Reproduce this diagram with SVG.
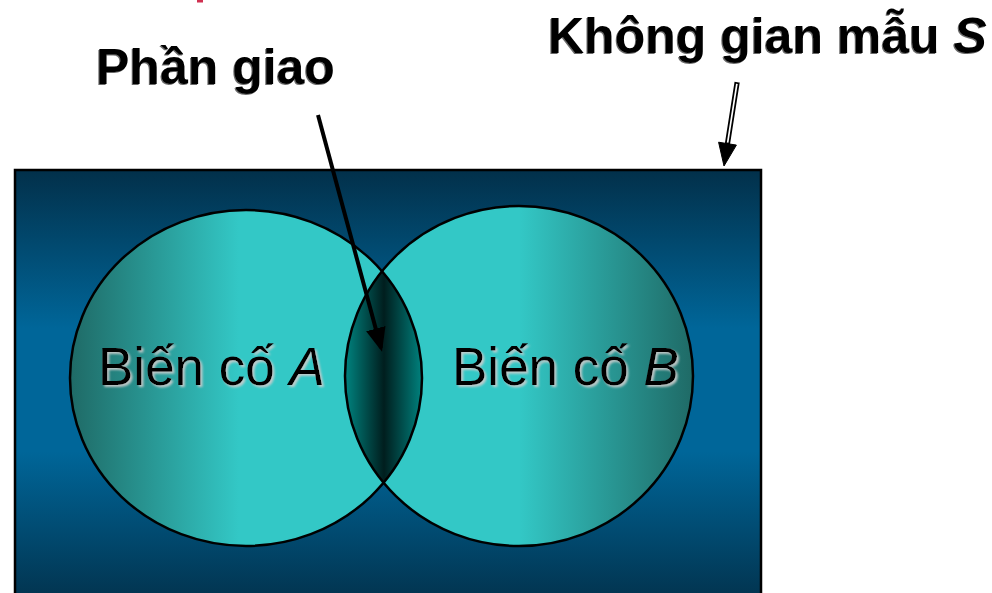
<svg xmlns="http://www.w3.org/2000/svg" width="992" height="593" viewBox="0 0 992 593">
<defs>
<linearGradient id="bg" x1="0" y1="170" x2="0" y2="610" gradientUnits="userSpaceOnUse">
<stop offset="0" stop-color="#02304a"/>
<stop offset="0.36" stop-color="#006699"/>
<stop offset="0.64" stop-color="#006699"/>
<stop offset="1" stop-color="#02304a"/>
</linearGradient>
<linearGradient id="gA" x1="70" y1="0" x2="422" y2="0" gradientUnits="userSpaceOnUse">
<stop offset="0" stop-color="#1f6a66"/>
<stop offset="0.48" stop-color="#33c8c6"/>
<stop offset="1" stop-color="#33c8c6"/>
</linearGradient>
<linearGradient id="gB" x1="345" y1="0" x2="693" y2="0" gradientUnits="userSpaceOnUse">
<stop offset="0" stop-color="#33c8c6"/>
<stop offset="0.5" stop-color="#33c8c6"/>
<stop offset="1" stop-color="#1f6a66"/>
</linearGradient>
<linearGradient id="gL" x1="345" y1="0" x2="423" y2="0" gradientUnits="userSpaceOnUse">
<stop offset="0" stop-color="#008480"/>
<stop offset="0.5" stop-color="#001e1e"/>
<stop offset="1" stop-color="#008480"/>
</linearGradient>
<clipPath id="clipA"><ellipse cx="246" cy="378" rx="176" ry="168"/></clipPath>
<filter id="shTitle" x="-5%" y="-20%" width="110%" height="140%">
<feDropShadow dx="-1" dy="1" stdDeviation="0" flood-color="#444" flood-opacity="0.8"/>
</filter>
<filter id="shLabel" x="-5%" y="-20%" width="110%" height="140%">
<feDropShadow dx="2" dy="2" stdDeviation="1" flood-color="#ccc" flood-opacity="0.9"/>
</filter>
<marker id="ah" markerWidth="6" markerHeight="5" refX="5" refY="2.5" orient="auto" markerUnits="strokeWidth">
<path d="M0,0 L6,2.5 L0,5 Z" fill="#000"/>
</marker>
</defs>
<style>
.title { font-family: "Liberation Sans", Arial, sans-serif; font-weight: bold; font-size: 50px; fill: #000; }
.label { font-family: "Liberation Sans", Arial, sans-serif; font-size: 53px; fill: #000; }
.outline { fill: none; stroke: #000; stroke-width: 2.5; }
</style>
<rect x="197" y="0" width="6" height="2.5" fill="#d03050"/>
<g id="sample-space">
<rect x="15" y="170" width="746" height="440" fill="url(#bg)" stroke="#000" stroke-width="2.5"/>
</g>
<g id="event-A">
<ellipse cx="246" cy="378" rx="176" ry="168" fill="url(#gA)"/>
</g>
<g id="event-B">
<ellipse cx="519" cy="376" rx="174" ry="170" fill="url(#gB)"/>
</g>
<g id="intersection">
<ellipse cx="519" cy="376" rx="174" ry="170" fill="url(#gL)" clip-path="url(#clipA)"/>
</g>
<g id="outlines">
<ellipse class="outline" cx="246" cy="378" rx="176" ry="168"/>
<ellipse class="outline" cx="519" cy="376" rx="174" ry="170"/>
</g>
<g id="labels">
<text class="label" x="98" y="385" filter="url(#shLabel)">Biến cố <tspan font-style="italic">A</tspan></text>
<text class="label" x="452" y="385" filter="url(#shLabel)">Biến cố <tspan font-style="italic">B</tspan></text>
<text class="title" x="96" y="84" filter="url(#shTitle)">Phần giao</text>
<text class="title" x="548" y="53" filter="url(#shTitle)">Không gian mẫu <tspan font-style="italic">S</tspan></text>
</g>
<g id="connectors">
<line x1="318" y1="115" x2="381" y2="348" stroke="#000" stroke-width="4" marker-end="url(#ah)"/>
<polygon points="738.7,83.3 735.3,82.7 725.8,143.2 729.2,143.8" fill="#fff" stroke="#000" stroke-width="1.8"/>
<polygon points="736.4,145.1 718.6,142.2 724,166" fill="#000" stroke="#000" stroke-width="1"/>
</g>
</svg>
